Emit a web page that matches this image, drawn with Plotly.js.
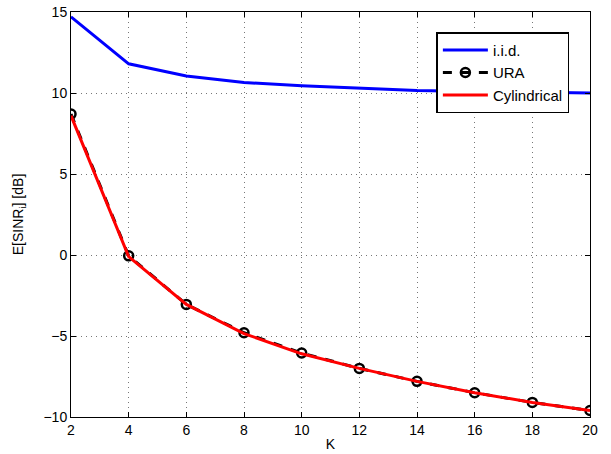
<!DOCTYPE html>
<html><head><meta charset="utf-8">
<script src="https://cdn.plot.ly/plotly-3.0.1.min.js"></script>
<style>body{margin:0;background:#fff}#c{width:611px;height:454px}</style>
</head><body><div id="c"></div>
<script>
const K = [2,4,6,8,10,12,14,16,18,20];
const iid = [14.7,11.8,11.05,10.65,10.45,10.3,10.15,10.1,10.05,10.0];
const ura = [8.7,-0.05,-3.05,-4.8,-6.05,-7.0,-7.8,-8.5,-9.1,-9.6];
const cyl = [8.6,-0.1,-3.05,-4.85,-6.1,-7.0,-7.8,-8.5,-9.1,-9.6];
const xTicks = [2,4,6,8,10,12,14,16,18,20];
const yTicks = [-10,-5,0,5,10,15];
const yTickText = ['\u221210','\u22125','0','5','10','15'];

const traces = [
  {x:K, y:iid, name:'i.i.d.', mode:'lines', line:{color:'#0000ff', width:3}},
  {x:K, y:ura, name:'URA', mode:'lines+markers', line:{color:'#000000', width:3, dash:'dash'},
   marker:{symbol:'circle-open', size:9, color:'#000', line:{width:2.5, color:'#000'}}},
  {x:K, y:cyl, name:'Cylindrical', mode:'lines', line:{color:'#ff0000', width:3}}
];
const axisCommon = {
  showline:true, mirror:'allticks', linecolor:'#000', linewidth:1,
  ticks:'inside', ticklen:5, tickcolor:'#000',
  showgrid:true, gridcolor:'#777', griddash:'1px,4px', gridwidth:1,
  zeroline:false, tickfont:{family:'Liberation Sans, Arial', size:14, color:'#000'}
};
const layout = {
  width:611, height:454,
  margin:{l:71, r:21, t:12, b:37},
  paper_bgcolor:'#fff', plot_bgcolor:'#fff',
  showlegend:true,
  legend:{x:0.704, y:0.95, xanchor:'left', yanchor:'top', bgcolor:'#fff', bordercolor:'#000', borderwidth:1.5,
    font:{family:'Liberation Sans, Arial', size:15, color:'#000'}, tracegroupgap:0, itemwidth:45},
  xaxis:Object.assign({}, axisCommon, {range:[2,20], tickvals:xTicks,
    title:{text:'K', font:{family:'Liberation Sans, Arial', size:14, color:'#000'}, standoff:2}}),
  yaxis:Object.assign({}, axisCommon, {range:[-10,15], tickvals:yTicks, ticktext:yTickText,
    title:{text:'E[SINR<sub>i</sub>] [dB]', font:{family:'Liberation Sans, Arial', size:14, color:'#000'}, standoff:16}})
};
Plotly.newPlot('c', traces, layout, {displayModeBar:false, staticPlot:true});
</script></body></html>
